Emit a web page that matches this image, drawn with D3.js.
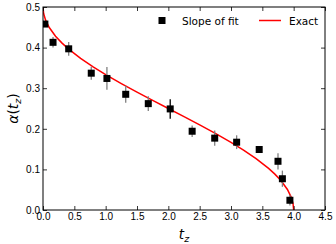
<!DOCTYPE html>
<html lang="en">
<head>
<meta charset="utf-8">
<title>Slope of fit vs exact</title>
<script src="https://d3js.org/d3.v7.min.js"></script>
<style>
  body { margin: 0; background: white; }
  svg { display: block; font-family: 'DejaVu Sans', sans-serif; }
  .tick text { font-size: 10px; fill: black; }
  .legend-text { font-size: 10.5px; fill: black; }
</style>
</head>
<body>
<div id="chart"></div>
<script>
// measured points (slope of fit) with error bars
var fitT   = [0.03, 0.16, 0.41, 0.77, 1.02, 1.32, 1.68, 2.03, 2.38, 2.74, 3.09, 3.45, 3.75, 3.82, 3.94];
var fitA   = [0.458, 0.413, 0.397, 0.337, 0.324, 0.285, 0.262, 0.249, 0.194, 0.177, 0.167, 0.149, 0.120, 0.077, 0.024];
var fitErr = [0.004, 0.013, 0.017, 0.016, 0.028, 0.021, 0.018, 0.024, 0.014, 0.019, 0.017, 0.003, 0.020, 0.020, 0.013];

// exact curve
var exactT = [0, 0.01, 0.04, 0.1, 0.2, 0.3, 0.4, 0.6, 0.8, 1.0, 1.25, 1.5, 1.75, 2.0,
              2.25, 2.5, 2.75, 3.0, 3.2, 3.4, 3.6, 3.7, 3.8, 3.9, 3.96, 3.99, 4.0];
var exactA = [0.5, 0.4841, 0.4681, 0.4494, 0.4282, 0.4117, 0.3976, 0.3734, 0.3524, 0.3333, 0.3112, 0.2902, 0.2699, 0.25,
              0.2301, 0.2098, 0.1888, 0.1667, 0.1476, 0.1266, 0.1024, 0.0883, 0.0718, 0.0506, 0.0319, 0.0159, 0];

var xTicks = [0, 0.5, 1, 1.5, 2, 2.5, 3, 3.5, 4, 4.5];
var yTicks = [0, 0.1, 0.2, 0.3, 0.4, 0.5];

var width = 336, height = 244;
var margin = {top: 7, right: 11, bottom: 34, left: 43};
var w = width - margin.left - margin.right;
var h = height - margin.top - margin.bottom;

var svg = d3.select("#chart").append("svg")
    .attr("width", width)
    .attr("height", height);

var g = svg.append("g")
    .attr("transform", "translate(" + margin.left + "," + margin.top + ")");

var x = d3.scaleLinear().domain([0, 4.5]).range([0, w]);
var y = d3.scaleLinear().domain([0, 0.5]).range([h, 0]);

g.append("clipPath").attr("id", "clip")
  .append("rect").attr("width", w).attr("height", h);

var plot = g.append("g").attr("clip-path", "url(#clip)");

// exact curve
plot.append("path")
    .datum(exactA)
    .attr("d", d3.line()
        .x(function(d, i){ return x(exactT[i]); })
        .y(function(d){ return y(d); }))
    .attr("fill", "none")
    .attr("stroke", "#ff0000")
    .attr("stroke-width", 1.5);

// error bars
plot.selectAll(".err")
  .data(fitA)
  .enter().append("line")
    .attr("x1", function(d, i){ return x(fitT[i]); })
    .attr("x2", function(d, i){ return x(fitT[i]); })
    .attr("y1", function(d, i){ return y(d - fitErr[i]); })
    .attr("y2", function(d, i){ return y(d + fitErr[i]); })
    .attr("stroke", function(d, i){ return i == 7 ? "#000" : "#808080"; })
    .attr("stroke-width", 1.3);

// squares
var s = 7;
plot.selectAll(".pt")
  .data(fitA)
  .enter().append("rect")
    .attr("x", function(d, i){ return x(fitT[i]) - s / 2; })
    .attr("y", function(d){ return y(d) - s / 2; })
    .attr("width", s)
    .attr("height", s)
    .attr("fill", "black");

// axes, ticks pointing inwards
var fmt = d3.format(".1f");

g.append("g")
    .attr("transform", "translate(0," + h + ")")
    .call(d3.axisBottom(x).tickValues(xTicks).tickFormat(fmt).tickSizeInner(-4).tickSizeOuter(0).tickPadding(3));
g.append("g")
    .call(d3.axisTop(x).tickValues(xTicks).tickFormat("").tickSizeInner(-4).tickSizeOuter(0));
g.append("g")
    .call(d3.axisLeft(y).tickValues(yTicks).tickFormat(fmt).tickSizeInner(-4).tickSizeOuter(0).tickPadding(3));
g.append("g")
    .attr("transform", "translate(" + w + ",0)")
    .call(d3.axisRight(y).tickValues(yTicks).tickFormat("").tickSizeInner(-4).tickSizeOuter(0));

g.selectAll(".domain").remove();
g.selectAll(".tick line").attr("stroke", "black").attr("stroke-width", 0.8);

g.append("rect")
    .attr("width", w).attr("height", h)
    .attr("fill", "none").attr("stroke", "black").attr("stroke-width", 1);

// axis labels
var xl = svg.append("text")
    .attr("x", margin.left + w / 2)
    .attr("y", 239)
    .attr("text-anchor", "middle")
    .style("font-size", "13.5px")
    .style("font-style", "italic");
xl.append("tspan").text("t");
xl.append("tspan").attr("dy", 3).style("font-size", "9.5px").text("z");

var yl = svg.append("text")
    .attr("transform", "translate(18," + (margin.top + h / 2) + ") rotate(-90)")
    .attr("text-anchor", "middle")
    .style("font-size", "14px");
yl.append("tspan").style("font-style", "italic").text("α");
yl.append("tspan").text("(");
yl.append("tspan").style("font-style", "italic").text("t");
yl.append("tspan").attr("dy", 3).style("font-size", "9.5px").style("font-style", "italic").text("z");
yl.append("tspan").attr("dy", -3).text(")");

// legend
svg.append("rect")
    .attr("x", 162 - s / 2).attr("y", 20.5 - s / 2)
    .attr("width", s).attr("height", s).attr("fill", "black");
svg.append("text").attr("class", "legend-text")
    .attr("x", 182).attr("y", 24.5).text("Slope of fit");
svg.append("line")
    .attr("x1", 259).attr("x2", 281).attr("y1", 20.5).attr("y2", 20.5)
    .attr("stroke", "#ff0000").attr("stroke-width", 1.5);
svg.append("text").attr("class", "legend-text")
    .attr("x", 289).attr("y", 24.5).text("Exact");
</script>
</body>
</html>
